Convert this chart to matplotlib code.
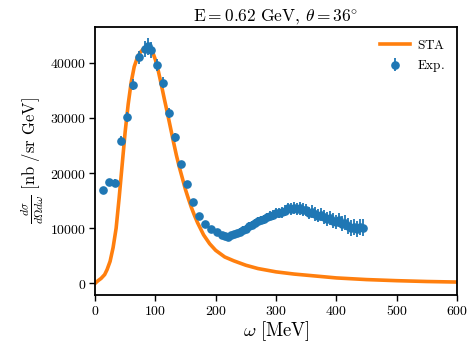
import matplotlib
matplotlib.use("Agg")
import matplotlib.pyplot as plt
from matplotlib.ticker import FuncFormatter
import numpy as np

plt.rcParams["mathtext.fontset"] = "cm"
plt.rcParams["font.family"] = "serif"

# STA model curve: energy transfer omega [MeV] and cross section [nb/sr GeV]
sta_omega = [0, 5, 10, 16, 20, 25, 30, 35, 40, 45, 50, 55, 60, 65, 70, 75, 80,
             85, 90, 95, 100, 105, 110, 115, 120, 125, 130, 135, 140, 145, 150,
             155, 160, 165, 170, 180, 190, 200, 215, 230, 250, 270, 300, 330,
             360, 400, 450, 500, 550, 600]
sta_xsec = [0, 500, 900, 1600, 2500, 4000, 6500, 10000, 15500, 21500, 27500,
            32500, 36500, 39300, 40900, 41900, 42500, 42800, 42700, 42100,
            40600, 38500, 36000, 33400, 30900, 28300, 25700, 23200, 21000,
            19000, 17000, 15300, 13700, 12300, 11000, 8800, 7200, 6000, 4800,
            4100, 3300, 2700, 2100, 1700, 1400, 1000, 700, 500, 350, 250]

# Experimental data
exp_omega = [13, 23, 33, 43, 53, 63, 73, 83, 88, 93, 103, 113, 123, 133, 143,
             153, 163, 173, 183, 193, 203, 210,
             215, 220, 225, 230, 235, 240, 245, 250, 255, 260, 265, 270, 275,
             280, 285, 290, 295, 300, 305, 310, 315, 320, 325, 330, 335, 340,
             345, 350, 355, 360, 365, 370, 375, 380, 385, 390, 395, 400, 405,
             410, 415, 420, 425, 430, 435, 440, 445]
exp_xsec = [16900, 18400, 18300, 25900, 30100, 36000, 41000, 42500, 43000,
            42300, 39600, 36400, 30900, 26500, 21600, 18000, 14700, 12300,
            10800, 9900, 9300, 8800,
            8600, 8400, 8700, 8900, 9100, 9400, 9700, 9900, 10400, 10600,
            10900, 11300, 11500, 11600, 12000, 12300, 12400, 12700, 12800,
            12900, 13200, 13600, 13500, 13700, 13500, 13600, 13400, 13300,
            12800, 13000, 12600, 12300, 12500, 12000, 11700, 11900, 11400,
            11200, 11500, 10800, 11000, 10400, 10000, 10300, 9900, 10200, 10100]
exp_err = [500, 550, 550, 750, 900, 1000, 1200, 1400, 1500, 1400, 1100, 1000,
           900, 800, 650, 550, 450, 400, 400, 400, 450, 450,
           500, 500, 550, 550, 600, 600, 650, 650, 700, 700, 750, 750, 800,
           800, 850, 850, 900, 900, 950, 950, 1000, 1000, 1000, 1050, 1050,
           1100, 1100, 1100, 1150, 1150, 1200, 1200, 1200, 1250, 1250, 1300,
           1300, 1300, 1350, 1350, 1400, 1400, 1450, 1450, 1500, 1500, 1500]

fig = plt.figure(figsize=(4.71, 3.44), dpi=100)
ax = fig.add_axes([0.2017, 0.1424, 0.7686, 0.7791])

ax.plot(sta_omega, sta_xsec, color="#ff7f0e", lw=2.6, label=r"$\mathrm{STA}$",
        zorder=2)
ax.errorbar(exp_omega, exp_xsec, yerr=exp_err, fmt="o", color="#1f77b4",
            ms=5.2, elinewidth=1.3, capsize=0, label=r"$\mathrm{Exp.}$",
            zorder=3)

ax.set_xlim(0, 600)
ax.set_ylim(-2100, 46500)
ax.set_xticks([0, 100, 200, 300, 400, 500, 600])
ax.set_yticks([0, 10000, 20000, 30000, 40000])
fmt = FuncFormatter(lambda v, p: r"$%d$" % int(round(v)))
ax.xaxis.set_major_formatter(fmt)
ax.yaxis.set_major_formatter(fmt)
ax.tick_params(labelsize=10, direction="out", length=4, width=1,
               colors="black", pad=2.5)
for s in ax.spines.values():
    s.set_linewidth(1.3)

ax.set_xlabel(r"$\omega\ [\mathrm{MeV}]$", fontsize=13.5, labelpad=1)
ax.set_ylabel(r"$\frac{d\sigma}{d\Omega d\omega}\ [\mathrm{nb\ /sr\ GeV}]$",
              fontsize=12, labelpad=3)
ax.set_title(r"$\mathrm{E = 0.62\ GeV},\, \theta = 36^{\circ}$", fontsize=12.5,
             pad=3)

ax.legend(loc="upper right", frameon=False, fontsize=9.5, handlelength=2.3,
          borderaxespad=0.5, handletextpad=0.5)

fig.savefig("out.png", dpi=100)
